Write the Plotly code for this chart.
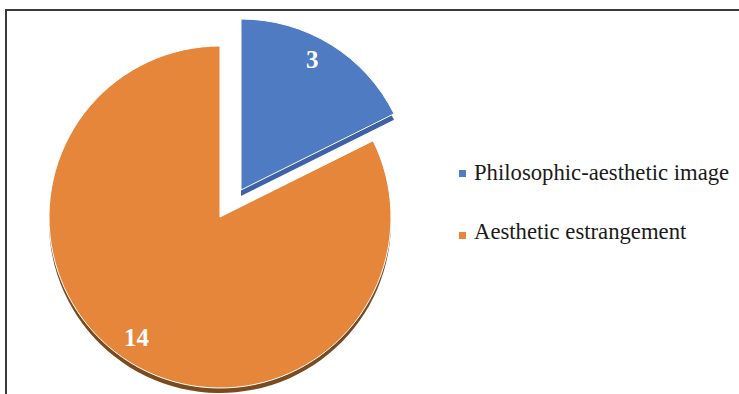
import math
import plotly.graph_objects as go

# Chart data
categories = ["Philosophic-aesthetic image", "Aesthetic estrangement"]
counts = [3, 14]

# Styling
W, H = 739, 394
top_colors = ["#4E7BC1", "#E5863B"]
side_colors = ["#3D62A6", "#7A4B1F"]
CLEAR = "rgba(0,0,0,0)"
SERIF = "Liberation Serif, Times New Roman, serif"

R = 171
# centres (px) of the top face of each slice; the exploded slice sits up and to the right
centres = [(241, 190), (220, 217)]
DEPTH = [6, 5]


def domain(cx, cy, r):
    return dict(x=[(cx - r) / W, (cx + r) / W], y=[1 - (cy + r) / H, 1 - (cy - r) / H])


def only(i, colour):
    return [colour if j == i else CLEAR for j in range(len(counts))]


fig = go.Figure()

# draw order: big slice (side then top), then the exploded slice (side then top)
for i in (1, 0):
    cx, cy = centres[i]
    # side / depth of the slice
    fig.add_trace(go.Pie(
        labels=categories, values=counts, sort=False, direction="clockwise", rotation=0,
        domain=domain(cx, cy + DEPTH[i], R),
        marker=dict(colors=only(i, side_colors[i]), line=dict(width=0)),
        textinfo="none", hoverinfo="skip", showlegend=False,
    ))
    # top face
    fig.add_trace(go.Pie(
        labels=categories, values=counts, sort=False, direction="clockwise", rotation=0,
        domain=domain(cx, cy, R),
        marker=dict(colors=only(i, top_colors[i]),
                    line=dict(color=only(i, "white"), width=1)),
        textinfo="none", showlegend=False,
    ))

# value labels along each slice's bisector
annotations = []
total = sum(counts)
cum = 0
for i, v in enumerate(counts):
    mid = (cum + v / 2) / total * 2 * math.pi
    cum += v
    cx, cy = centres[i]
    px = cx + 0.86 * R * math.sin(mid) - 6
    py = cy - 0.86 * R * math.cos(mid) - 5
    annotations.append(dict(
        x=px / W, y=1 - py / H, xref="paper", yref="paper", showarrow=False,
        text=f"<b>{v}</b>", font=dict(family=SERIF, size=25, color="white"),
        xanchor="center", yanchor="middle",
    ))

# legend
shapes = []
legend_text_y = [172, 231]
legend_box_y = [173.5, 235.5]
for i, name in enumerate(categories):
    by = legend_box_y[i]
    shapes.append(dict(type="rect", xref="paper", yref="paper",
                       x0=459 / W, x1=466 / W, y0=1 - (by + 3.5) / H, y1=1 - (by - 3.5) / H,
                       fillcolor=top_colors[i], line=dict(width=0)))
    annotations.append(dict(
        x=472 / W, y=1 - legend_text_y[i] / H, xref="paper", yref="paper", showarrow=False,
        text=name, font=dict(family=SERIF, size=22.7, color="#1a1a1a"),
        xanchor="left", yanchor="middle",
    ))

# chart frame (top and left edges)
shapes.append(dict(type="path", xref="paper", yref="paper",
                   path=f"M {6 / W},{-0.05} L {6 / W},{1 - 10 / H} L {1.05},{1 - 10 / H}",
                   line=dict(color="#3a3a3a", width=2)))

fig.update_layout(
    width=W, height=H,
    margin=dict(l=0, r=0, t=0, b=0),
    paper_bgcolor="white", plot_bgcolor="white",
    showlegend=False,
    annotations=annotations, shapes=shapes,
)

fig.write_html("out.html")
